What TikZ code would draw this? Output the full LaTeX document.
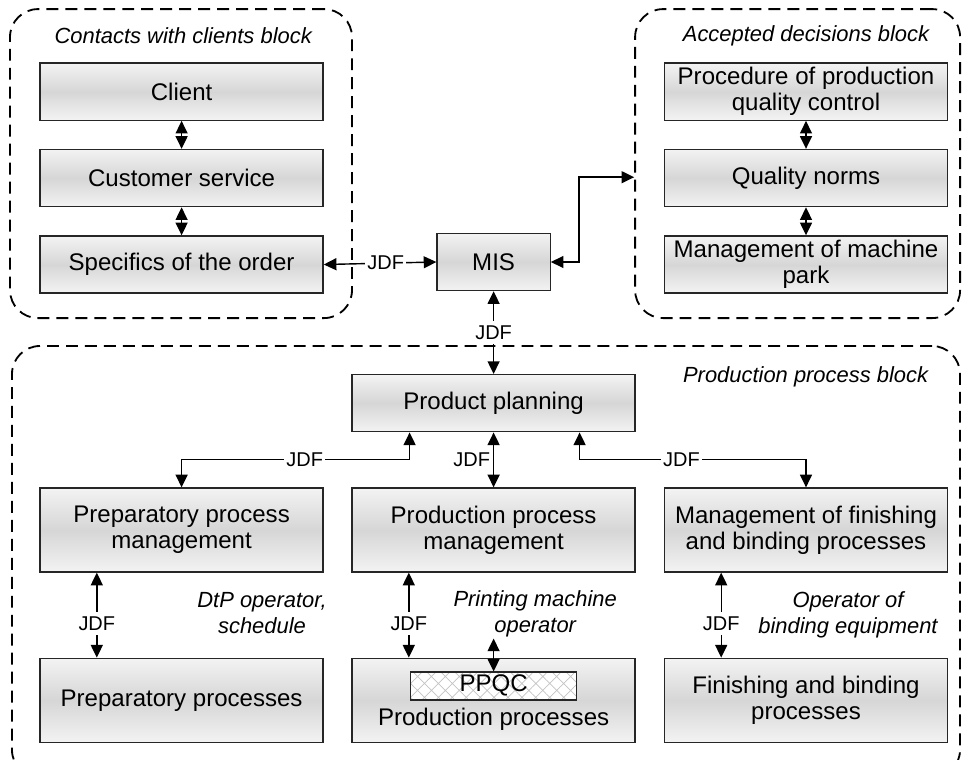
\documentclass[tikz,border=0pt]{standalone}
\usepackage{fontspec}
\setmainfont{Liberation Sans}
\usetikzlibrary{arrows.meta,positioning,calc,patterns.meta}
\definecolor{boxlight}{HTML}{F3F3F3}
\definecolor{boxgray}{HTML}{D6D6D6}
\definecolor{hatchgray}{HTML}{C4C4C4}

\begin{document}
\begin{tikzpicture}[
  box/.style={draw=black!85, line width=0.9pt, top color=boxlight,
              bottom color=boxlight, middle color=boxgray,
              minimum width=7.075cm, minimum height=1.43cm, inner sep=2pt,
              align=center, font=\fontsize{17.1}{18.5}\selectfont},
  tallbox/.style={box, minimum height=2.1cm},
  ppqcbox/.style={draw=black!85, line width=0.9pt, preaction={fill=white},
              pattern={Hatch[angle=45,distance=7pt,line width=0.5pt]},
              pattern color=hatchgray, minimum width=4.15cm,
              minimum height=0.7cm, inner sep=0pt,
              font=\fontsize{17.1}{18.5}\selectfont},
  blk/.style={draw, line width=1.3pt, dash pattern=on 8.5pt off 5pt,
              rounded corners=0.7cm},
  blklbl/.style={font=\fontsize{15.6}{18.5}\selectfont\itshape},
  rolelbl/.style={font=\fontsize{15.6}{18.5}\selectfont\itshape,
              align=center, inner sep=1pt},
  jdf/.style={fill=white, inner xsep=1.5pt, inner ysep=3pt,
              font=\fontsize{14.2}{16}\selectfont},
  link/.style={{Triangle[length=9pt,width=8.5pt]}-{Triangle[length=9pt,width=8.5pt]},
              line width=1pt},
]
\useasboundingbox (0,0) rectangle (24.1,-19);

%% ---- frames of the blocks ----
\node[blk, minimum width=8.55cm, minimum height=7.725cm] (contactsblk)
  at (4.525,-4.09) {};
\node[blk, minimum width=8.125cm, minimum height=7.725cm] (decisionsblk)
  at (19.94,-4.09) {};
\node[blk, minimum width=23.7cm, minimum height=10.8cm] (prodblk)
  at (12.15,-14.05) {};
\coordinate (decin) at ([yshift=-0.34cm]decisionsblk.west);

\node[blklbl] (contactslbl) at (4.58,-0.9) {Contacts with clients block};
\node[blklbl] (decisionslbl) at (20.15,-0.9) {Accepted decisions block};
\node[blklbl] (prodlbl) at (20.14,-9.43) {Production process block};

%% ---- contacts with clients ----
\node[box] (client) at (4.54,-2.29) {Client};
\node[box, below=0.7cm of client] (custserv) {Customer service};
\node[box, below=0.7cm of custserv] (specs) {Specifics of the order};

%% ---- accepted decisions ----
\node[box] (qcproc) at (20.15,-2.29) {Procedure of production\\quality control};
\node[box, below=0.7cm of qcproc] (qnorms) {Quality norms};
\node[box, below=0.7cm of qnorms] (machpark) {Management of machine\\park};

%% ---- MIS ----
\node[box, minimum width=2.83cm] (mis) at (12.34,-6.55) {MIS};

%% ---- production process ----
\node[box] (plan) at (12.34,-10.08) {Product planning};
\node[tallbox] (prepman) at (4.54,-13.25) {Preparatory process\\management};
\node[tallbox] (prodman) at (12.34,-13.25) {Production process\\management};
\node[tallbox] (finman) at (20.15,-13.25) {Management of finishing\\and binding processes};
\node[tallbox, below=2.125cm of prepman] (prepproc) {Preparatory processes};
\node[tallbox, below=2.125cm of prodman] (prodproc) {};
\node[tallbox, below=2.125cm of finman] (finproc) {Finishing and binding\\processes};

% quality control inside the production processes
\node[ppqcbox] (ppqc) at ([yshift=0.36cm]prodproc.center) {PPQC};
\node[font=\fontsize{17.1}{18.5}\selectfont] (prodproclbl) at (12.34,-17.97)
  {Production processes};

%% ---- operators ----
\node[rolelbl] (dtplbl) at (6.55,-15.33) {DtP operator,\\schedule};
\node[rolelbl] (prtlbl) at (13.38,-15.34) {Printing machine\\operator};
\node[rolelbl] (bindlbl) at (21.2,-15.38) {Operator of\\binding equipment};

%% ---- links inside the blocks ----
\draw[link] (client) -- (custserv);
\draw[link] (custserv) -- (specs);
\draw[link] (qcproc) -- (qnorms);
\draw[link] (qnorms) -- (machpark);

%% ---- JDF links ----
\draw[link] (specs.east) -- node[jdf, pos=0.55] {JDF} (mis.west);
\draw[link] (mis.east) -- ++(0.7,0) |- (decin);
\draw[link] (mis) -- node[jdf] {JDF} (plan);

\draw[link] ([xshift=-2.1cm]plan.south) -- ++(0,-0.68)
  -| node[jdf, pos=0.23] {JDF} (prepman.north);
\draw[link] (plan) -- node[jdf, left, fill=none, inner xsep=2pt] {JDF} (prodman);
\draw[link] ([xshift=2.15cm]plan.south) -- ++(0,-0.68)
  -| node[jdf, pos=0.225] {JDF} (finman.north);

\draw[link] ([xshift=-2.12cm]prepman.south)
  -- node[jdf, pos=0.6] {JDF} ([xshift=-2.12cm]prepproc.north);
\draw[link] ([xshift=-2.12cm]prodman.south)
  -- node[jdf, pos=0.6] {JDF} ([xshift=-2.12cm]prodproc.north);
\draw[link] ([xshift=-2.12cm]finman.south)
  -- node[jdf, pos=0.6] {JDF} ([xshift=-2.12cm]finproc.north);

% operator to the quality control
\draw[link] (ppqc.north |- prtlbl.south) -- (ppqc.north);

\end{tikzpicture}
\end{document}
